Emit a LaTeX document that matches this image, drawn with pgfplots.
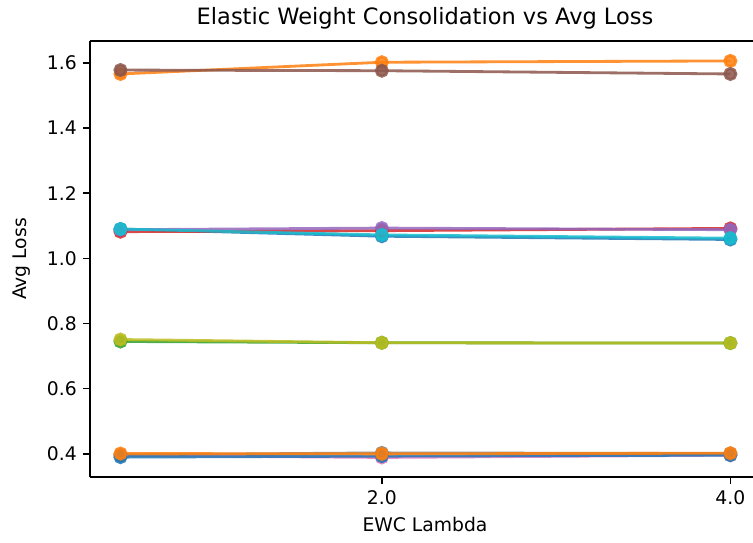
\documentclass[border=0pt]{standalone}
\usepackage{fontspec}
\setmainfont{DejaVu Sans}
\usepackage{pgfplots}
\pgfplotsset{compat=1.18}
\definecolor{c0}{HTML}{1F77B4}
\definecolor{c1}{HTML}{FF7F0E}
\definecolor{c2}{HTML}{2CA02C}
\definecolor{c3}{HTML}{D62728}
\definecolor{c4}{HTML}{9467BD}
\definecolor{c5}{HTML}{8C564B}
\definecolor{c6}{HTML}{E377C2}
\definecolor{c7}{HTML}{7F7F7F}
\definecolor{c8}{HTML}{BCBD22}
\definecolor{c9}{HTML}{17BECF}
\pgfplotsset{
  ser/.style={color=#1, line width=1.5pt, opacity=0.85, mark=*, mark size=3pt, mark options={solid, fill=#1, draw=#1}},
}
\begin{document}
\begin{tikzpicture}
\path[use as bounding box] (-48pt,-34.7pt) rectangle (353.6pt,254.4pt);
\begin{axis}[
  at={(0,0)}, anchor=south west,
  scale only axis,
  width=353.6pt, height=232.5pt,
  xmin=0.325, xmax=4.13,
  ymin=0.329, ymax=1.667,
  xtick={2,4},
  ytick={0.4,0.6,0.8,1.0,1.2,1.4,1.6},
  axis y line*=left,
  xtick pos=bottom,
  tick align=outside,
  major tick length=3.5pt,
  every tick/.style={black, line width=0.8pt},
  axis line style={black, line width=0.8pt},
  /pgf/number format/assume math mode=true,
  xticklabel style={/pgf/number format/.cd, fixed, fixed zerofill, precision=1},
  yticklabel style={/pgf/number format/.cd, fixed, fixed zerofill, precision=1},
  tick label style={font=\fontsize{10}{12}\selectfont},
  xlabel={EWC Lambda},
  ylabel={Avg Loss},
  xlabel style={font=\fontsize{10}{12}\selectfont, at={(axis description cs:0.5053,-0.110)}, anchor=center},
  ylabel style={font=\fontsize{10}{12}\selectfont, at={(axis description cs:-0.1026,0.5)}, anchor=center},
  title={Elastic Weight Consolidation vs Avg Loss},
  every axis title/.style={font=\fontsize{12}{14.4}\selectfont, at={(axis description cs:0.5053,1.0528)}, anchor=center},
]
\addplot[ser=c0] coordinates {(0.5,1.090) (2.0,1.068) (4.0,1.058)};
\addplot[ser=c1] coordinates {(0.5,1.566) (2.0,1.602) (4.0,1.606)};
\addplot[ser=c2] coordinates {(0.5,0.745) (2.0,0.741) (4.0,0.740)};
\addplot[ser=c3] coordinates {(0.5,1.082) (2.0,1.085) (4.0,1.092)};
\addplot[ser=c4] coordinates {(0.5,1.088) (2.0,1.093) (4.0,1.088)};
\addplot[ser=c5] coordinates {(0.5,1.578) (2.0,1.576) (4.0,1.566)};
\addplot[ser=c6] coordinates {(0.5,0.395) (2.0,0.389) (4.0,0.396)};
\addplot[ser=c7] coordinates {(0.5,0.397) (2.0,0.403) (4.0,0.401)};
\addplot[ser=c8] coordinates {(0.5,0.751) (2.0,0.741) (4.0,0.740)};
\addplot[ser=c9] coordinates {(0.5,1.090) (2.0,1.072) (4.0,1.062)};
\addplot[ser=c0] coordinates {(0.5,0.390) (2.0,0.393) (4.0,0.396)};
\addplot[ser=c1] coordinates {(0.5,0.401) (2.0,0.400) (4.0,0.402)};
\end{axis}
\end{tikzpicture}
\end{document}
